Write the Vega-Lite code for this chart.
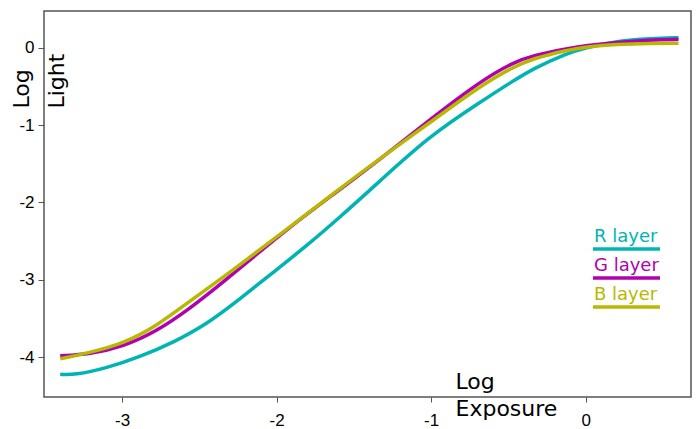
{
  "$schema": "https://vega.github.io/schema/vega-lite/v6.json",
  "width": 647,
  "height": 386,
  "autosize": {"type": "none"},
  "padding": {"left": 44, "top": 11, "right": 5, "bottom": 32},
  "background": "white",
  "config": {
    "view": {"stroke": "#555555", "strokeWidth": 1.5},
    "axis": {"grid": false, "domain": false, "tickColor": "#555555", "labelFont": "Liberation Sans", "labelFontSize": 17, "labelColor": "black", "titleFont": "DejaVu Sans", "titleFontSize": 22, "titleFontWeight": "normal", "titleColor": "black",
      "labelExpr": "datum.value < 0 ? '-' + (-datum.value) : '' + datum.value"}
  },
  "datasets": {
    "curves": [
      {"s": "R layer", "x": -3.40, "y": -4.22},
      {"s": "R layer", "x": -3.31, "y": -4.23},
      {"s": "R layer", "x": -3.10, "y": -4.14},
      {"s": "R layer", "x": -2.88, "y": -3.99},
      {"s": "R layer", "x": -2.67, "y": -3.81},
      {"s": "R layer", "x": -2.45, "y": -3.57},
      {"s": "R layer", "x": -2.24, "y": -3.25},
      {"s": "R layer", "x": -2.02, "y": -2.90},
      {"s": "R layer", "x": -1.80, "y": -2.55},
      {"s": "R layer", "x": -1.59, "y": -2.19},
      {"s": "R layer", "x": -1.33, "y": -1.72},
      {"s": "R layer", "x": -1.01, "y": -1.14},
      {"s": "R layer", "x": -0.68, "y": -0.70},
      {"s": "R layer", "x": -0.47, "y": -0.43},
      {"s": "R layer", "x": -0.34, "y": -0.27},
      {"s": "R layer", "x": -0.12, "y": -0.07},
      {"s": "R layer", "x": 0.0, "y": 0.0},
      {"s": "R layer", "x": 0.2, "y": 0.087},
      {"s": "R layer", "x": 0.42, "y": 0.12},
      {"s": "R layer", "x": 0.6, "y": 0.13},
      {"s": "G layer", "x": -3.40, "y": -3.98},
      {"s": "G layer", "x": -3.21, "y": -3.96},
      {"s": "G layer", "x": -2.99, "y": -3.86},
      {"s": "G layer", "x": -2.78, "y": -3.67},
      {"s": "G layer", "x": -2.56, "y": -3.37},
      {"s": "G layer", "x": -2.34, "y": -3.02},
      {"s": "G layer", "x": -2.13, "y": -2.67},
      {"s": "G layer", "x": -1.91, "y": -2.31},
      {"s": "G layer", "x": -1.65, "y": -1.92},
      {"s": "G layer", "x": -1.33, "y": -1.44},
      {"s": "G layer", "x": -1.01, "y": -0.93},
      {"s": "G layer", "x": -0.68, "y": -0.43},
      {"s": "G layer", "x": -0.47, "y": -0.19},
      {"s": "G layer", "x": -0.34, "y": -0.10},
      {"s": "G layer", "x": -0.12, "y": -0.01},
      {"s": "G layer", "x": 0.0, "y": 0.026},
      {"s": "G layer", "x": 0.2, "y": 0.07},
      {"s": "G layer", "x": 0.42, "y": 0.10},
      {"s": "G layer", "x": 0.6, "y": 0.108},
      {"s": "B layer", "x": -3.40, "y": -4.02},
      {"s": "B layer", "x": -3.21, "y": -3.94},
      {"s": "B layer", "x": -2.99, "y": -3.82},
      {"s": "B layer", "x": -2.78, "y": -3.60},
      {"s": "B layer", "x": -2.56, "y": -3.27},
      {"s": "B layer", "x": -2.34, "y": -2.96},
      {"s": "B layer", "x": -2.13, "y": -2.64},
      {"s": "B layer", "x": -1.91, "y": -2.31},
      {"s": "B layer", "x": -1.65, "y": -1.91},
      {"s": "B layer", "x": -1.33, "y": -1.43},
      {"s": "B layer", "x": -1.01, "y": -0.97},
      {"s": "B layer", "x": -0.68, "y": -0.49},
      {"s": "B layer", "x": -0.47, "y": -0.25},
      {"s": "B layer", "x": -0.34, "y": -0.14},
      {"s": "B layer", "x": -0.12, "y": -0.03},
      {"s": "B layer", "x": 0.0, "y": 0.009},
      {"s": "B layer", "x": 0.2, "y": 0.044},
      {"s": "B layer", "x": 0.42, "y": 0.057},
      {"s": "B layer", "x": 0.6, "y": 0.057}
    ]
  },
  "layer": [
    {
      "mark": {"type": "rule", "strokeDash": [2, 2], "color": "black", "strokeWidth": 1},
      "encoding": {"y": {"datum": 0, "type": "quantitative", "scale": {"domain": [-4.513, 0.474], "nice": false, "zero": false}}}
    },
    {
      "mark": {"type": "rule", "strokeDash": [2, 2], "color": "black", "strokeWidth": 1},
      "encoding": {"x": {"datum": 0, "type": "quantitative", "scale": {"domain": [-3.505, 0.681], "nice": false, "zero": false}}}
    },
    {
      "data": {"name": "curves"},
      "mark": {"type": "line", "strokeWidth": 3.5, "interpolate": "basis", "strokeCap": "butt"},
      "encoding": {
        "x": {"field": "x", "type": "quantitative",
          "scale": {"domain": [-3.505, 0.681], "nice": false, "zero": false},
          "axis": {"values": [-3, -2, -1, 0], "tickSize": 5, "labelPadding": 10, "title": ["Log", "Exposure"], "titleX": 411, "titleY": -9, "titleAlign": "left", "titleAnchor": null, "titleBaseline": "alphabetic", "titleLineHeight": 27}},
        "y": {"field": "y", "type": "quantitative",
          "scale": {"domain": [-4.513, 0.474], "nice": false, "zero": false},
          "axis": {"values": [0, -1, -2, -3, -4], "tickSize": 6, "labelPadding": 4, "title": ["Log", "Light"], "titleAngle": 270, "titleX": -16, "titleY": 97, "titleAlign": "left", "titleBaseline": "alphabetic", "titleLineHeight": 35}},
        "stroke": {"field": "s", "type": "nominal",
          "scale": {"domain": ["R layer", "G layer", "B layer"], "range": ["#00b4b4", "#b000b0", "#b8b800"]},
          "legend": {"orient": "none", "legendX": 540, "legendY": 222, "title": null, "padding": 0,
            "symbolType": "M0,7L67,7", "symbolSize": 4, "symbolStrokeWidth": 3.5, "symbolFillColor": "transparent",
            "labelOffset": -8, "labelFont": "DejaVu Sans", "labelFontSize": 18, "labelBaseline": "alphabetic", "rowPadding": 1,
            "encode": {"labels": {"update": {"fill": {"signal": "datum.value === 'R layer' ? '#00b4b4' : datum.value === 'G layer' ? '#b000b0' : '#b8b800'"}}}}}
        },
        "order": {"value": 0}
      }
    }
  ]
}
